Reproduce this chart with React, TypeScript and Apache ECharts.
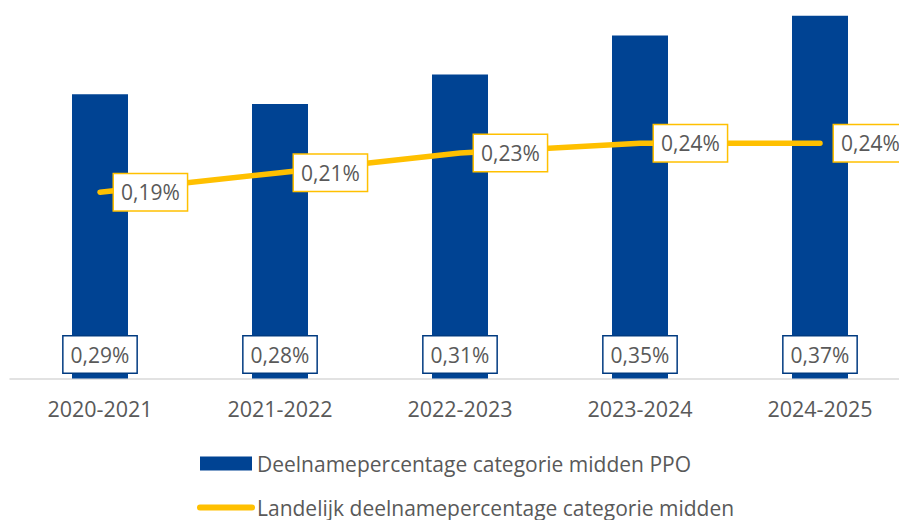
import React, { useEffect, useRef } from "react";
import * as echarts from "echarts";

const categories = ["2020-2021", "2021-2022", "2022-2023", "2023-2024", "2024-2025"];
const barValues = [0.29, 0.28, 0.31, 0.35, 0.37];
const lineValues = [0.19, 0.21, 0.23, 0.24, 0.24];
const barName = "Deelnamepercentage categorie midden PPO";
const lineName = "Landelijk deelnamepercentage categorie midden";

const FONT = "'Open Sans', sans-serif";
const fmt = (v: number) => v.toFixed(2).replace(".", ",") + "%";

const labelBox = (border: string) => ({
  show: true,
  formatter: (p: any) => fmt(Array.isArray(p.value) ? p.value[1] : p.value),
  color: "#595959",
  fontSize: 21,
  fontFamily: FONT,
  backgroundColor: "#ffffff",
  borderColor: border,
  borderWidth: 1.5,
  padding: [7, 7, 6, 7],
  lineHeight: 23,
  opacity: 1,
});

export default function App() {
  const ref = useRef<HTMLDivElement>(null);
  useEffect(() => {
    if (!ref.current) return;
    const chart = echarts.init(ref.current, null, { renderer: "svg" });
    chart.setOption({
      animation: false,
      textStyle: { fontFamily: FONT },
      grid: { left: 10, right: 0, top: 6, bottom: 141.5 },
      legend: {
        orient: "vertical",
        left: 192,
        top: 448,
        height: 90,
        itemWidth: 52,
        itemHeight: 14,
        itemGap: 23,
        textStyle: { fontFamily: FONT, fontSize: 21, color: "#595959", lineHeight: 20 },
        lineStyle: { width: 6, cap: "round" },
        data: [
          { name: barName, icon: "rect" },
          {
            name: lineName,
            itemStyle: { color: "rgba(0,0,0,0)", borderColor: "rgba(0,0,0,0)", borderWidth: 0 },
          },
        ],
      },
      xAxis: {
        type: "category",
        data: categories,
        axisLine: { show: true, lineStyle: { color: "#d9d9d9", width: 1.5 } },
        axisTick: { show: false },
        axisLabel: { color: "#595959", fontSize: 21.5, fontFamily: FONT, margin: 19 },
      },
      yAxis: {
        type: "value",
        min: 0,
        max: 0.38,
        show: false,
        splitLine: { show: false },
      },
      series: [
        {
          name: barName,
          type: "bar",
          data: barValues,
          barWidth: 56,
          itemStyle: { color: "#004393" },
          label: { ...labelBox("#003a80"), position: "insideBottom", distance: 6 },
          z: 2,
        },
        {
          name: lineName,
          type: "line",
          data: lineValues,
          symbol: "none",
          lineStyle: { color: "#ffc000", width: 5.5, cap: "round", join: "round" },
          itemStyle: { color: "#ffc000" },
          z: 3,
        },
        {
          name: "lineLabels",
          type: "scatter",
          data: lineValues,
          symbolSize: 0,
          itemStyle: { color: "#ffc000", opacity: 1 },
          label: { ...labelBox("#ffc000"), position: "right", distance: 14 },
          z: 4,
        },
      ],
    });
    return () => chart.dispose();
  }, []);
  return (
    <div
      style={{
        position: "fixed",
        left: 0,
        top: 0,
        width: 899,
        height: 520,
        overflow: "hidden",
        background: "#fff",
      }}
    >
      <div ref={ref} style={{ width: 910, height: 520 }} />
    </div>
  );
}
